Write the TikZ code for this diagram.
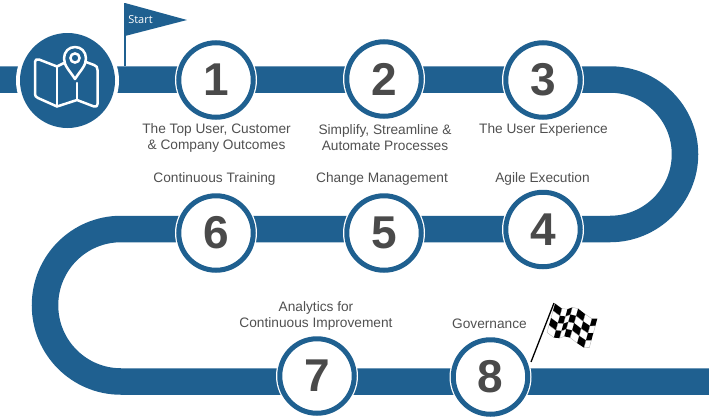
\documentclass[tikz,border=0pt]{standalone}
\usepackage{fontspec}
\setmainfont{Liberation Sans}
\newfontfamily\startfont{Open Sans}
\definecolor{bandblue}{HTML}{1F6090}
\definecolor{numgrey}{HTML}{4A4A4A}
\definecolor{txtgrey}{HTML}{505050}
\newcommand{\flagpt}[2]{%
  \pgfmathsetmacro{\fu}{(#1)/7}\pgfmathsetmacro{\fv}{(#2)/4}%
  \pgfmathsetmacro{\fw}{3.2*sin(\fu*520)}%
  \pgfmathsetmacro{\fx}{555+42*\fu-8*\fv+\fw*0.3}%
  \pgfmathsetmacro{\fy}{303.5+14*\fu+29*\fv+\fw}%
}
\tikzset{
  x=1pt,y=-1pt,
  band/.style={line width=26.5pt,draw=bandblue},
  stepcirc/.style={circle,draw=bandblue,line width=5pt,fill=white,minimum size=74.5pt,inner sep=0pt,
    text=numgrey,font=\fontsize{46}{46}\selectfont\bfseries},
  halo/.style={circle,fill=white,minimum size=82pt,inner sep=0pt},
  lab/.style={text=txtgrey,font=\fontsize{13.7}{16}\selectfont,align=center,inner sep=0pt},
  mapline/.style={draw=white,line width=2.5pt,line join=round,line cap=round}
}
\begin{document}
\begin{tikzpicture}
\useasboundingbox (0,0) rectangle (709,418);
\coordinate (w0) at (0,79.5);
\coordinate (w1) at (610,79.5);
\coordinate (w2) at (610,229);
\coordinate (w3) at (121,229);
\coordinate (w4) at (121,381.5);
\coordinate (w5) at (709,381.5);
\draw[band] (w0) -- (w1) .. controls (651.3,79.5) and (685,113) .. (685,154.25) .. controls (685,195.5) and (651.3,229) .. (w2) -- (w3)
   .. controls (79,229) and (45,263) .. (45,305.25) .. controls (45,347.5) and (79,381.5) .. (w4) -- (w5);
% icon
\node[circle,fill=white,minimum size=103pt,inner sep=0pt] (iconhalo) at (67.5,80.5) {};
\node[circle,fill=bandblue,minimum size=95pt,inner sep=0pt] (icon) at (67.5,80.5) {};
\draw[mapline] (64,63) -- (57,66.5) -- (39,59.5) .. controls (36.5,58.5) and (35,60) .. (35,62) -- (35,94) .. controls (35,96) and (36,97) .. (38,98) -- (57,106.5) -- (77,100) -- (94,106.5) .. controls (96.5,107) and (97.5,106) .. (97.5,104) -- (97.5,70) .. controls (97.5,67) and (96.5,66) .. (94,65) -- (86,62);
\draw[mapline] (57,66.5) -- (57,106.5);
\draw[mapline] (77,83) -- (77,100);
\draw[mapline,fill=bandblue] (75,79) .. controls (70,71) and (64,66) .. (64,58.5) .. controls (64,51.5) and (69,47) .. (75,47) .. controls (81,47) and (86,51.5) .. (86,58.5) .. controls (86,66) and (80,71) .. (75,79) -- cycle;
\draw[mapline] (75,58) circle[radius=4.6];
% start flag
\coordinate (fa) at (125,66);
\coordinate (fb) at (125,3);
\coordinate (fc) at (187,20);
\coordinate (fd) at (125,36);
\draw[draw=bandblue,line width=2pt] (fa) -- (fb);
\fill[bandblue] (fb) -- (fc) -- (fd) -- cycle;
\node[text=white,font=\startfont\fontsize{11}{12}\selectfont,inner sep=0pt] (start) at (140.5,20) {Start};
% steps
\foreach \nm/\px/\py/\t in {s1/216/80/1,s2/384/79/2,s3/543/80/3,s4/543/229.5/4,s5/384/233/5,s6/216/233/6,s7/317/376/7,s8/490.5/377/8}{
  \node[halo] at (\px,\py) {};
  \node[stepcirc] (\nm) at (\px,\py) {\t};
}
% labels
\node[lab] (l1) at (216.5,137.5) {The Top User, Customer\\\& Company Outcomes};
\node[lab] (l2) at (385,137.5) {Simplify, Streamline \&\\Automate Processes};
\node[lab] (l3) at (543.5,130) {The User Experience};
\node[lab] (l4) at (542.5,179) {Agile Execution};
\node[lab] (l5) at (382,179) {Change Management};
\node[lab] (l6) at (214.5,179) {Continuous Training};
\node[lab] (l7) at (316,315.5) {Analytics for\\Continuous Improvement};
\node[lab] (l8) at (489.5,324) {Governance};
% checkered flag
\coordinate (p0) at (531,362);
\coordinate (p1) at (554,303);
\draw[black,line width=1.3pt] (p0) -- (p1);
\foreach \i in {0,...,6}{\foreach \j in {0,...,3}{
  \pgfmathtruncatemacro{\cellpar}{mod(\i+\j,2)}
  \flagpt{\i}{\j}\edef\qax{\fx}\edef\qay{\fy}
  \flagpt{\i+1}{\j}\edef\qbx{\fx}\edef\qby{\fy}
  \flagpt{\i+1}{\j+1}\edef\qcx{\fx}\edef\qcy{\fy}
  \flagpt{\i}{\j+1}\edef\qdx{\fx}\edef\qdy{\fy}
  \ifnum\cellpar=0
  \fill[black] (\qax,\qay) -- (\qbx,\qby) -- (\qcx,\qcy) -- (\qdx,\qdy) -- cycle;
  \else
  \draw[gray!70,line width=0.3pt] (\qax,\qay) -- (\qbx,\qby) -- (\qcx,\qcy) -- (\qdx,\qdy) -- cycle;
  \fi
}}
\end{tikzpicture}
\end{document}
